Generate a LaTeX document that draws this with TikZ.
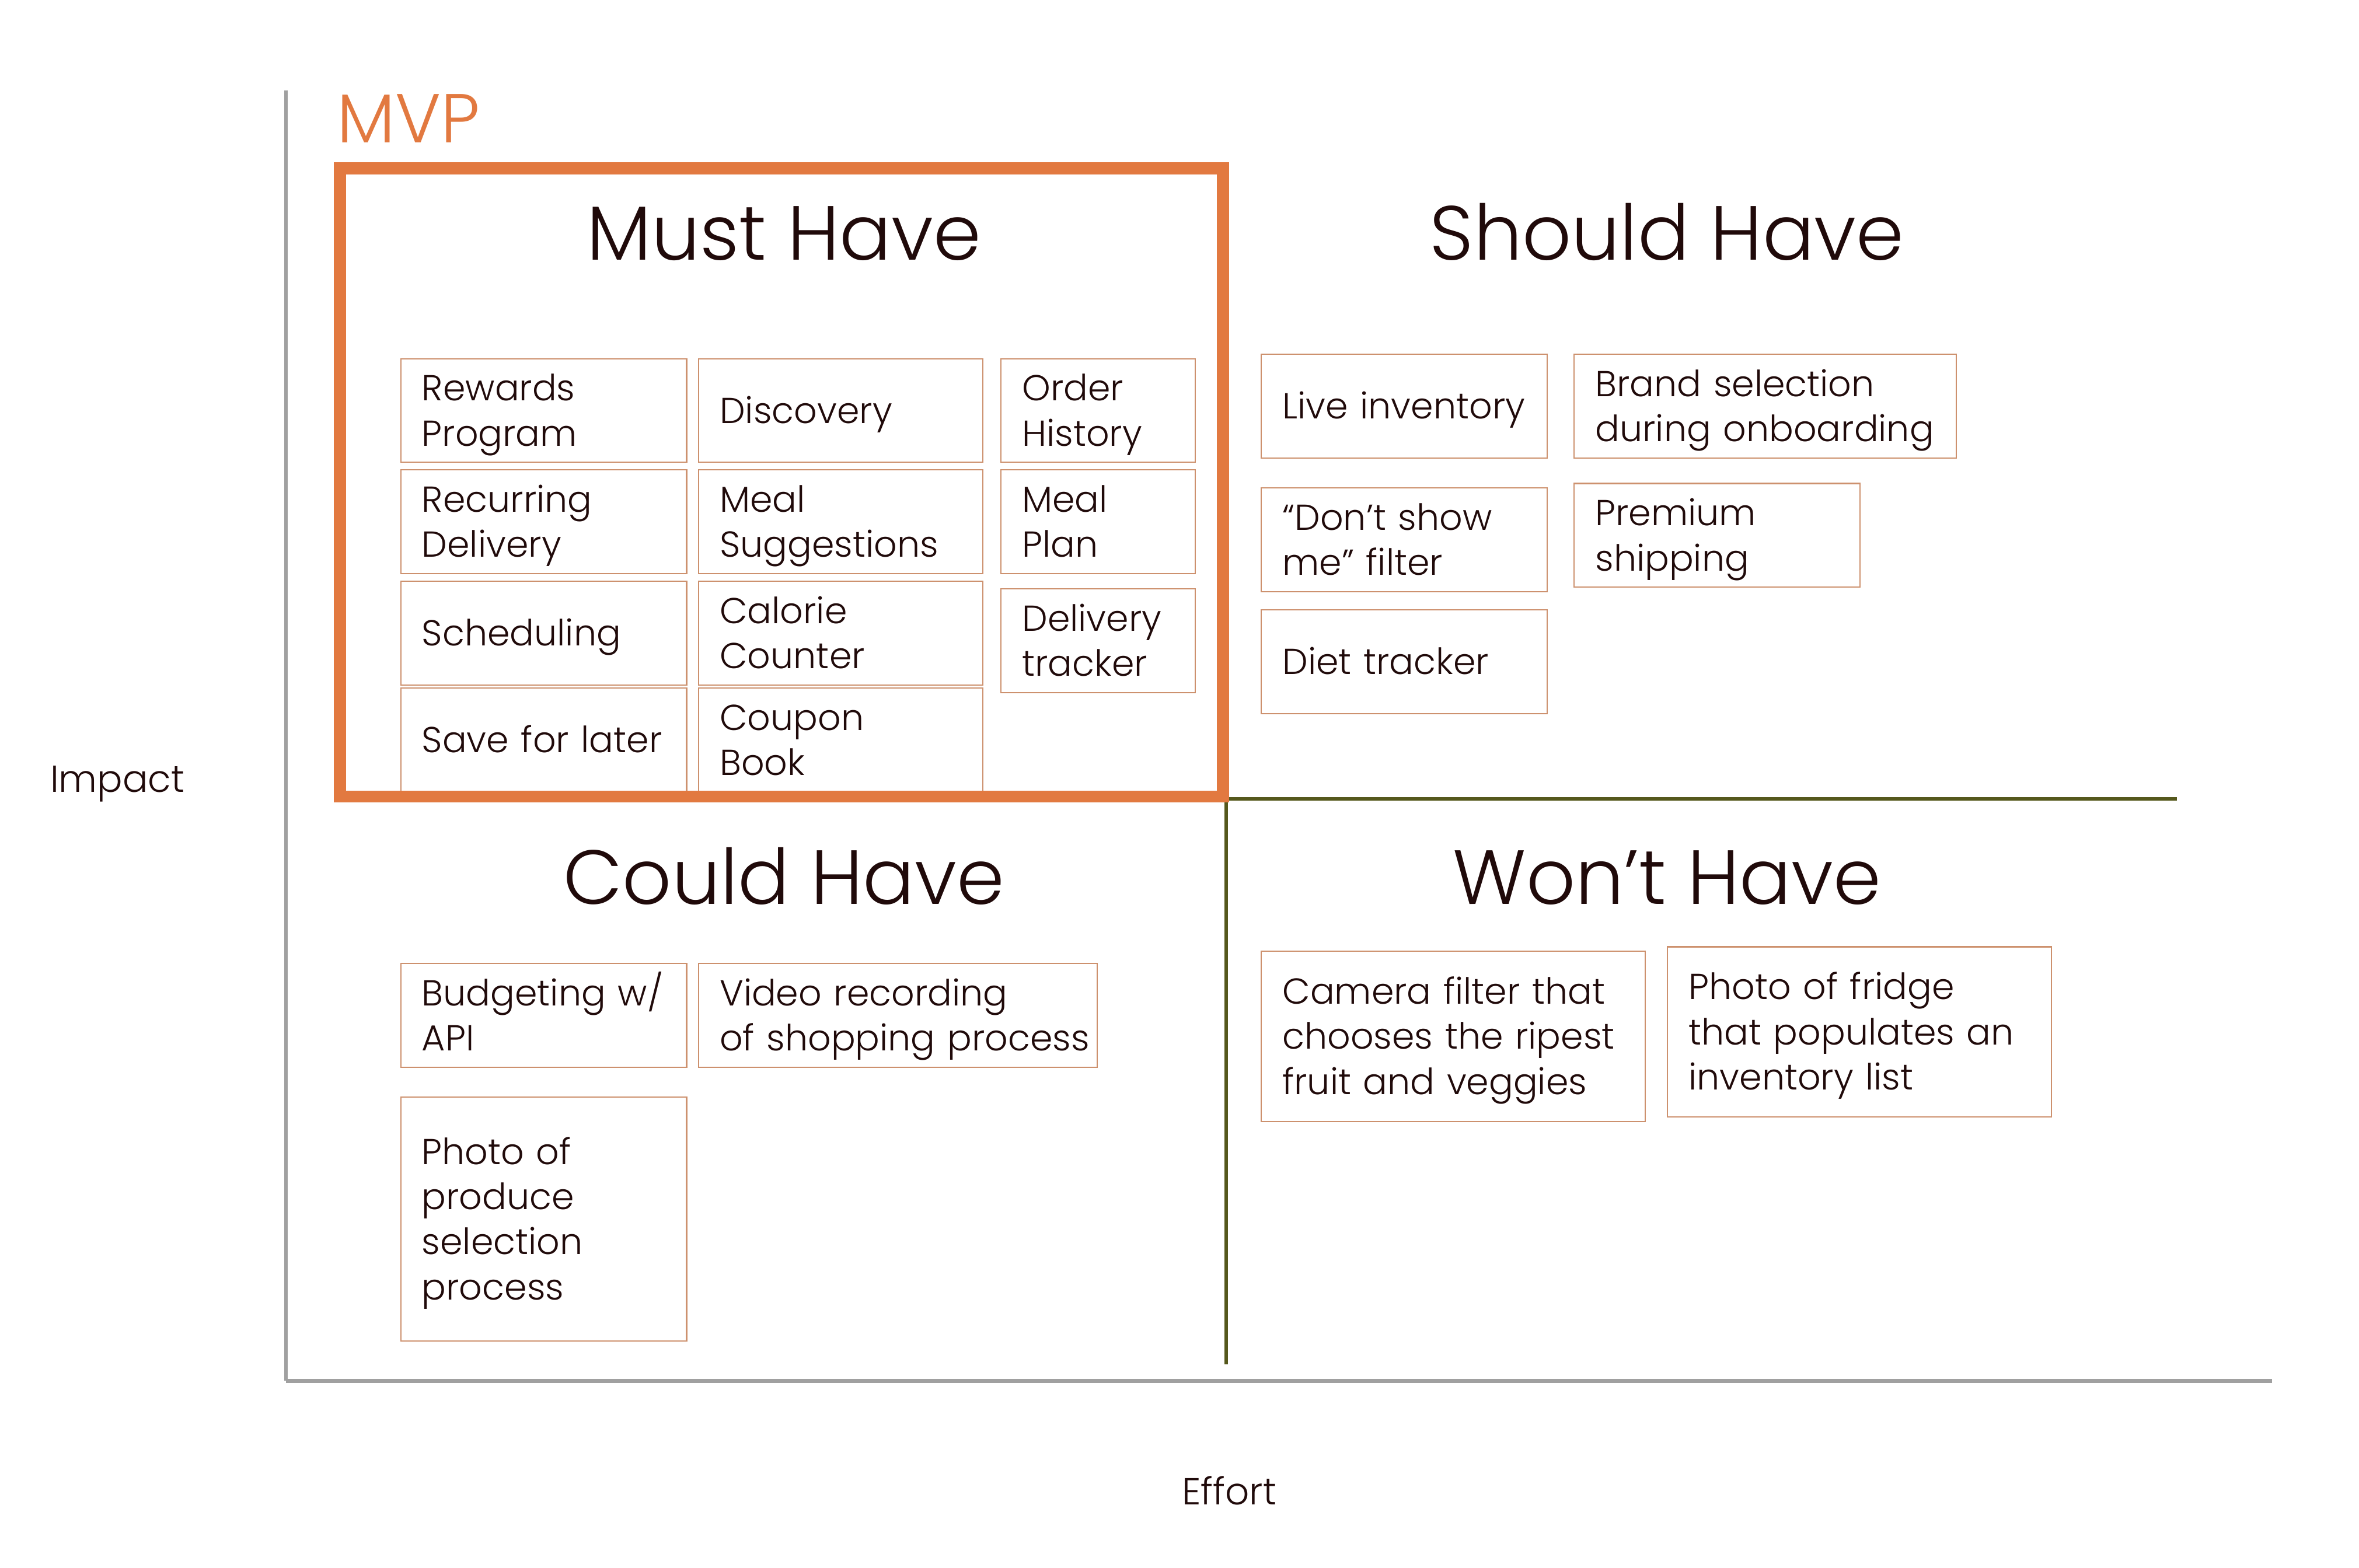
\documentclass[tikz,border=0pt]{standalone}
\usepackage{fontspec}
\setmainfont{Poppins Light}
\definecolor{ink}{RGB}{32,10,10}
\definecolor{mvp}{RGB}{226,121,64}
\definecolor{cardline}{RGB}{205,145,110}
\definecolor{divider}{RGB}{85,88,28}
\definecolor{axis}{RGB}{160,160,160}
% fixed line height so every card centres its text the same way
\newcommand{\cardstrut}{\rule[-6.5pt]{0pt}{30pt}}
\begin{document}
\begin{tikzpicture}[x=1pt,y=-1pt,
  card/.style={draw=cardline, line width=0.8pt, inner xsep=14pt, inner ysep=0pt,
    anchor=north west, align=left, text=ink, minimum height=69pt,
    execute at begin node={\cardstrut}, execute at end node={\cardstrut},
    font=\fontsize{24}{30}\selectfont},
  heading/.style={anchor=base, text=ink, inner sep=0pt, font=\fontsize{51}{56}\selectfont},
  axislabel/.style={text=ink, inner sep=0pt, font=\fontsize{25}{30}\selectfont}]
\useasboundingbox[fill=white] (0,0) rectangle (1568,1042);

% axes
\coordinate (yTop) at (190,60);
\coordinate (origin) at (190,918);
\coordinate (xEnd) at (1510,918);
\draw[axis, line width=2.5pt] (yTop) -- (origin);
\draw[axis, line width=3pt] (origin) -- (xEnd);

% quadrant dividers
\coordinate (midTop) at (815,531);
\coordinate (midBottom) at (815,907);
\coordinate (midRight) at (1447,531);
\draw[divider, line width=2.3pt] (midTop) -- (midBottom);
\draw[divider, line width=2.3pt] (midTop) -- (midRight);

% axis labels
\node[axislabel] (impact) at (78,521) {Impact};
\node[axislabel] (effort) at (817,991) {Effort};

% quadrant headings
\node[heading] (must) at (521,173) {Must Have};
\node[heading] (should) at (1108,173) {Should Have};
\node[heading] (could) at (521,601) {Could Have};
\node[heading] (wont) at (1108,601) {Won’t Have};

% must have
\node[card, text width=162pt] (rewards) at (266,238) {Rewards\\Program};
\node[card, text width=161pt] (discovery) at (464,238) {Discovery};
\node[card, text width=101pt] (orders) at (665,238) {Order\\History};
\node[card, text width=162pt] (recurring) at (266,312) {Recurring\\Delivery};
\node[card, text width=161pt] (suggest) at (464,312) {Meal\\Suggestions};
\node[card, text width=101pt] (plan) at (665,312) {Meal\\Plan};
\node[card, text width=162pt] (sched) at (266,386) {Scheduling};
\node[card, text width=161pt] (calorie) at (464,386) {Calorie\\Counter};
\node[card, text width=101pt] (tracker) at (665,391) {Delivery\\tracker};
\node[card, text width=162pt] (later) at (266,457) {Save for later};
\node[card, text width=161pt] (coupon) at (464,457) {Coupon\\Book};

% should have
\node[card, text width=162pt] (live) at (838,235) {Live inventory};
\node[card, text width=226pt] (brand) at (1046,235) {Brand selection\\during onboarding};
\node[card, text width=162pt] (dontshow) at (838,324) {“Don’t show\\me” filter};
\node[card, text width=162pt] (premium) at (1046,321) {Premium\\shipping};
\node[card, text width=162pt] (diet) at (838,405) {Diet tracker};

% could have
\node[card, text width=162pt] (budget) at (266,640) {Budgeting w/\\API};
\node[card, text width=237pt] (video) at (464,640) {Video recording\\\mbox{of shopping process}};
\node[card, text width=162pt, minimum height=162pt] (produce) at (266,729) {Photo of\\produce\\selection\\process};

% won't have
\node[card, text width=227pt, minimum height=113pt] (camera) at (838,632) {Camera filter that\\chooses the ripest\\fruit and veggies};
\node[card, text width=227pt, minimum height=113pt] (fridge) at (1108,629) {Photo of fridge\\that populates an\\inventory list};

% MVP frame
\draw[mvp, line width=8pt] (226,112) rectangle (813,529.5);
\node[anchor=base west, text=mvp, inner sep=0pt, font=\fontsize{46}{50}\selectfont] (mvplabel) at (224,95) {MVP};
\end{tikzpicture}
\end{document}
